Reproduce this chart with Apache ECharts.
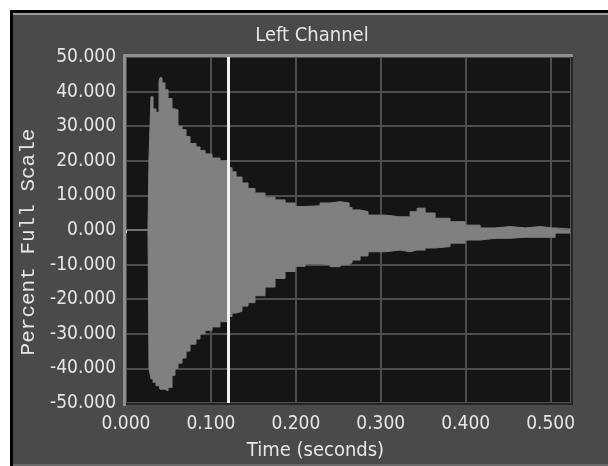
<!DOCTYPE html>
<html>
<head>
<meta charset="utf-8">
<script src="https://cdn.jsdelivr.net/npm/echarts@6/dist/echarts.min.js"></script>
<style>
html,body{margin:0;padding:0;background:#ffffff;}
#c{width:608px;height:466px;}
</style>
</head>
<body>
<div id="c"></div>
<script>
// ---- data ----
const titleText = 'Left Channel';
const xName = 'Time (seconds)';
const yName = 'Percent Full Scale';
const cursorTime = 0.1176;
const timeSec = [0.0000,0.0259,0.0271,0.0294,0.0318,0.0353,0.0389,0.0400,0.0424,0.0459,0.0495,0.0542,0.0577,0.0612,0.0660,0.0707,0.0754,0.0824,0.0872,0.0931,0.1013,0.1107,0.1201,0.1249,0.1296,0.1366,0.1437,0.1519,0.1637,0.1755,0.1873,0.1991,0.2108,0.2285,0.2403,0.2521,0.2627,0.2662,0.2756,0.2850,0.3051,0.3227,0.3345,0.3428,0.3522,0.3640,0.3816,0.3993,0.4170,0.4346,0.4523,0.4700,0.4876,0.5018,0.5053,0.5230];
const upperEnv = [0,0,21,38.5,35,34,43,44,42.5,40.5,38,35,34.7,30,29,27,25,24,23,22,20.8,20,18,16.8,15.3,13.6,12,10.7,9.5,8.7,7.8,6.8,7,7.8,8.2,7.8,6.5,5.8,5.3,4.3,3.8,3.8,5.3,6.3,4.9,3.4,2.4,1.4,0.6,1.0,0.6,1.0,0.6,0.6,0.3,0];
const lowerEnv = [0,0,-40,-43,-44,-45,-45,-46,-46,-46.5,-45.5,-42,-40,-38.5,-37,-35,-33,-31.5,-30,-29,-28,-26.5,-25,-24,-23.5,-22,-21,-19,-16.5,-14,-12,-10.5,-9.8,-10,-10.6,-10,-9.5,-8.7,-7.5,-6.3,-5.8,-6.3,-5.8,-5.8,-5.2,-4.8,-3.8,-2.9,-2.4,-2.4,-2.1,-2.1,-2.1,-2.1,-0.9,-0.5];
const xMin = 0, xMax = 0.524, xStep = 0.1;
const yMin = -50, yMax = 50, yStep = 10;

const FONT = "'Liberation Sans Narrow','Arial Narrow','DejaVu Sans Condensed',sans-serif";
const TXT = '#e6e6e6';
const WAVE = '#808080';

const chart = echarts.init(document.getElementById('c'), null, {renderer:'canvas'});
const upperData = timeSec.map((t,i)=>[t, upperEnv[i]]);
const lowerData = timeSec.map((t,i)=>[t, lowerEnv[i]]);

chart.setOption({
  animation:false,
  backgroundColor:'#ffffff',
  graphic:[
    {type:'rect', z:-100, shape:{x:10,y:10,width:598,height:456}, style:{fill:'#000000'}, silent:true},
    {type:'rect', z:-99, shape:{x:13,y:13,width:595,height:453}, style:{fill:'#4a4a4a'}, silent:true},
    {type:'rect', z:-98, shape:{x:13,y:13,width:595,height:2}, style:{fill:'#9a9a9a'}, silent:true},
    {type:'rect', z:-98, shape:{x:13,y:464,width:595,height:2}, style:{fill:'#6a6a6a'}, silent:true},
    {type:'text', z:50, x:312, y:36, style:{text:titleText, align:'center', verticalAlign:'middle',
      fill:TXT, font:"20px 'Liberation Sans Narrow','Arial Narrow','DejaVu Sans Condensed',sans-serif"}, silent:true},
    // plot bevel
    {type:'rect', z:100, shape:{x:123,y:54,width:450,height:3}, style:{fill:'#8e8e8e'}, silent:true},
    {type:'rect', z:100, shape:{x:123,y:54,width:3,height:352}, style:{fill:'#8e8e8e'}, silent:true},
    {type:'rect', z:100, shape:{x:126,y:403,width:447,height:2}, style:{fill:'#262626'}, silent:true},
    {type:'rect', z:100, shape:{x:571,y:57,width:2,height:348}, style:{fill:'#262626'}, silent:true}
  ],
  grid:{left:126, right:37, top:57, bottom:63, show:true, backgroundColor:'#151515', borderWidth:0,
    containLabel:false, outerBoundsMode:'none'},
  xAxis:{
    type:'value', min:xMin, max:xMax, interval:xStep,
    name:xName, nameLocation:'middle', nameGap:38,
    nameTextStyle:{color:TXT, fontFamily:FONT, fontSize:20, padding:[0,66,0,0]},
    axisLine:{show:false},
    axisTick:{show:true, length:3, lineStyle:{color:'#cfcfcf', width:1}},
    axisLabel:{color:TXT, fontFamily:FONT, fontSize:19, margin:12, showMaxLabel:false,
      formatter:v=>v.toFixed(3)},
    splitLine:{show:true, lineStyle:{color:'#4e4e4e', width:2}}
  },
  yAxis:{
    type:'value', min:yMin, max:yMax, interval:yStep,
    name:yName, nameLocation:'middle', nameGap:73, nameRotate:90,
    nameTextStyle:{color:TXT, fontFamily:"'Liberation Mono','DejaVu Sans Mono',monospace", fontSize:21, padding:[0,24,0,0]},
    axisLine:{show:false},
    axisTick:{show:true, length:2, lineStyle:{color:'#cfcfcf', width:1}},
    axisLabel:{color:TXT, fontFamily:FONT, fontSize:19, margin:10,
      formatter:v=>v.toFixed(3)},
    splitLine:{show:true, lineStyle:{color:'#4e4e4e', width:2}}
  },
  series:[
    {type:'line', data:upperData, step:'end', showSymbol:false, silent:true,
      lineStyle:{color:WAVE, width:1}, areaStyle:{color:WAVE, opacity:1, origin:0},
      markLine:{silent:true, symbol:['none','none'], label:{show:false},
        lineStyle:{color:'#f2f2f2', width:3, type:'solid'},
        data:[{xAxis:cursorTime}]}
    },
    {type:'line', data:lowerData, step:'end', showSymbol:false, silent:true,
      lineStyle:{color:WAVE, width:1}, areaStyle:{color:WAVE, opacity:1, origin:0}}
  ]
});
</script>
</body>
</html>
